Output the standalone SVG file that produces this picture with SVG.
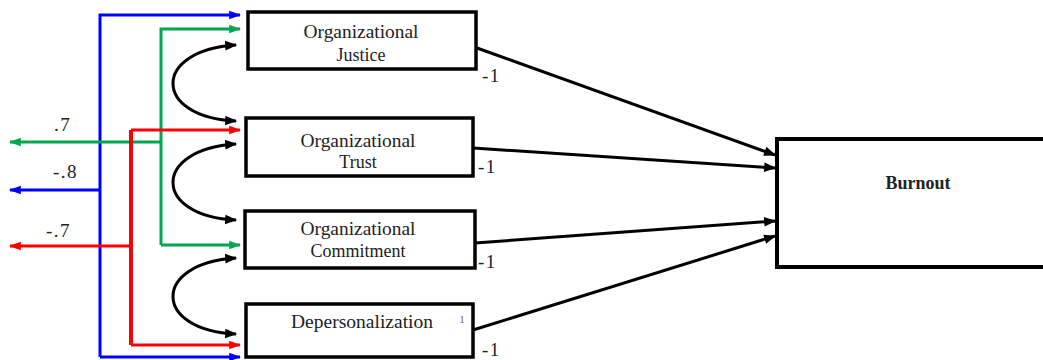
<svg xmlns="http://www.w3.org/2000/svg" width="1043" height="360" viewBox="0 0 1043 360">
<defs>
<style>
.box{fill:#fff;stroke:#000;stroke-width:3.5}
.t{font-family:"Liberation Serif","Times New Roman",serif;font-size:18px;fill:#222;text-anchor:middle}
.lbl{font-family:"Liberation Serif","Times New Roman",serif;font-size:19px;fill:#222;letter-spacing:1.5px}
.blue{stroke:#0000ff;stroke-width:3;fill:none}
.green{stroke:#00a651;stroke-width:3;fill:none}
.red{stroke:#ff0000;stroke-width:3;fill:none}
.blk{stroke:#000;stroke-width:3;fill:none}
</style>
<marker id="ab" viewBox="0 0 10 10" refX="9" refY="5" markerWidth="4" markerHeight="4" orient="auto-start-reverse" markerUnits="strokeWidth"><path d="M0,1.5 L10,5 L0,8.5 z" fill="#0000ff"/></marker>
<marker id="ag" viewBox="0 0 10 10" refX="9" refY="5" markerWidth="4" markerHeight="4" orient="auto-start-reverse" markerUnits="strokeWidth"><path d="M0,1.5 L10,5 L0,8.5 z" fill="#00a651"/></marker>
<marker id="ar" viewBox="0 0 10 10" refX="9" refY="5" markerWidth="4" markerHeight="4" orient="auto-start-reverse" markerUnits="strokeWidth"><path d="M0,1.5 L10,5 L0,8.5 z" fill="#ff0000"/></marker>
<marker id="ak" viewBox="0 0 10 10" refX="9" refY="5" markerWidth="5" markerHeight="4" orient="auto-start-reverse" markerUnits="strokeWidth"><path d="M0,1 L10,5 L0,9 z" fill="#000"/></marker>
</defs>
<g id="connectors">
<path class="blue" d="M10,190 H100" marker-start="url(#ab)"/>
<path class="blue" d="M100,357 V15 H240" marker-end="url(#ab)"/>
<path class="blue" d="M100,357 H240" marker-end="url(#ab)"/>
<path class="green" d="M10,142 H161" marker-start="url(#ag)"/>
<path class="green" d="M161,245 V29 H240" marker-end="url(#ag)"/>
<path class="green" d="M161,245 H240" marker-end="url(#ag)"/>
<path class="red" d="M10,246 H131" marker-start="url(#ar)"/>
<path class="red" style="stroke-width:4" d="M131,130 V345"/>
<path class="red" d="M131,130 H240" marker-end="url(#ar)"/>
<path class="red" d="M131,345 H240" marker-end="url(#ar)"/>
<path class="blk" d="M236,45 C152,50 152,117 236,121" marker-start="url(#ak)" marker-end="url(#ak)"/>
<path class="blk" d="M236,144 C152,149 152,216 236,220" marker-start="url(#ak)" marker-end="url(#ak)"/>
<path class="blk" d="M236,258 C152,263 152,330 236,334" marker-start="url(#ak)" marker-end="url(#ak)"/>
<path class="blk" d="M477,48 L775,155" marker-end="url(#ak)"/>
<path class="blk" d="M473,148 L775,168" marker-end="url(#ak)"/>
<path class="blk" d="M475,243 L775,221" marker-end="url(#ak)"/>
<path class="blk" d="M473,330 L775,236" marker-end="url(#ak)"/>
<text class="lbl" x="482" y="82">-1</text>
<text class="lbl" x="478" y="173">-1</text>
<text class="lbl" x="478" y="268">-1</text>
<text class="lbl" x="482" y="356">-1</text>
<text class="lbl" x="54" y="131">.7</text>
<text class="lbl" x="53" y="178">-.8</text>
<text class="lbl" x="46" y="237">-.7</text>
</g>
<g id="justice">
<rect class="box" x="248" y="12" width="228" height="57"/>
<text class="t" x="361" y="38" textLength="115" lengthAdjust="spacingAndGlyphs">Organizational</text>
<text class="t" x="361" y="61">Justice</text>
</g>
<g id="trust">
<rect class="box" x="246" y="118" width="227" height="58"/>
<text class="t" x="358" y="147" textLength="115" lengthAdjust="spacingAndGlyphs">Organizational</text>
<text class="t" x="358" y="168">Trust</text>
</g>
<g id="commitment">
<rect class="box" x="245" y="211" width="230" height="57"/>
<text class="t" x="358" y="235" textLength="115" lengthAdjust="spacingAndGlyphs">Organizational</text>
<text class="t" x="358" y="257">Commitment</text>
</g>
<g id="depersonalization">
<rect class="box" x="246" y="304" width="227" height="53"/>
<text class="t" x="362" y="328" textLength="142" lengthAdjust="spacingAndGlyphs">Depersonalization</text>
<text x="462" y="323" style="font-family:'Liberation Serif',serif;font-size:11px;fill:#666" text-anchor="middle">1</text>
</g>
<g id="burnout">
<rect x="777" y="139" width="280" height="128" style="fill:#fff;stroke:#000;stroke-width:4"/>
<text x="918" y="189" style="font-family:'Liberation Serif','Times New Roman',serif;font-size:18px;font-weight:bold;fill:#222" text-anchor="middle">Burnout</text>
</g>
</svg>
